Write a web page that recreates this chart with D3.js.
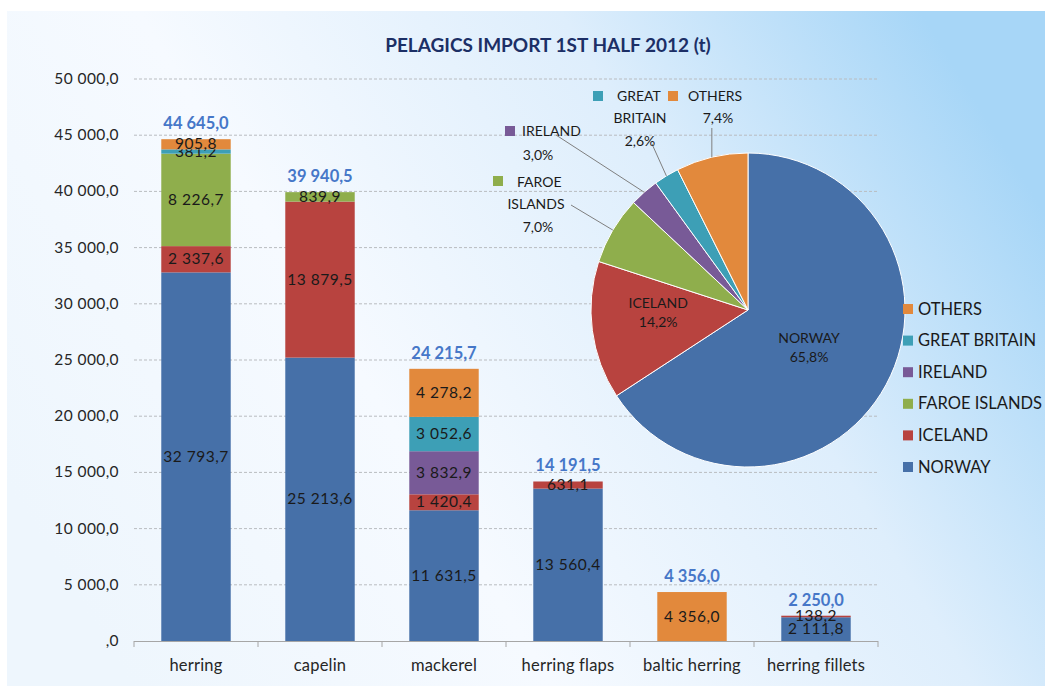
<!DOCTYPE html>
<html>
<head>
<meta charset="utf-8">
<script src="https://cdn.jsdelivr.net/npm/d3@7"></script>
<style>
  body { margin: 0; background: #fff; }
  svg { display: block; font-family: Lato, "Open Sans", sans-serif; }
</style>
</head>
<body>
<svg id="chart" width="1045" height="686"></svg>
<script>
// --- data ---
const categories = ['herring', 'capelin', 'mackerel', 'herring flaps', 'baltic herring', 'herring fillets'];
const countries = ['NORWAY', 'ICELAND', 'FAROE ISLANDS', 'IRELAND', 'GREAT BRITAIN', 'OTHERS'];

const norway = [32793.7, 25213.6, 11631.5, 13560.4, 0, 2111.8];
const iceland = [2337.6, 13879.5, 1420.4, 631.1, 0, 138.2];
const faroe = [8226.7, 839.9, 0, 0, 0, 0];
const ireland = [0, 0, 3832.9, 0, 0, 0];
const greatBritain = [381.2, 0, 3052.6, 0, 0, 0];
const others = [905.8, 0, 4278.2, 0, 4356.0, 0];
const totals = [44645.0, 39940.5, 24215.7, 14191.5, 4356.0, 2250.0];

const pieShares = [65.8, 14.2, 7.0, 3.0, 2.6, 7.4];
const yTicks = [0, 5000, 10000, 15000, 20000, 25000, 30000, 35000, 40000, 45000, 50000];

const colors = ['#4670a8', '#b8433f', '#8fae4c', '#785a97', '#3d9fb6', '#e2893c'];

// --- helpers ---
const locale = d3.formatLocale({ decimal: ',', thousands: '\u00a0', grouping: [3] });
const fmt = locale.format(',.1f');
const fmtTick = (v) => v === 0 ? ',0' : fmt(v);

const svg = d3.select('#chart');
const defs = svg.append('defs');
const grad = defs.append('linearGradient')
  .attr('id', 'bg')
  .attr('x1', 0).attr('y1', 0.7).attr('x2', 1).attr('y2', 0.3);
[[0, '#eef6fd'], [0.35, '#f6faff'], [0.7, '#deeefc'], [1, '#a7d6f7']].forEach(([o, c]) =>
  grad.append('stop').attr('offset', o).attr('stop-color', c));

svg.append('rect')
  .attr('x', 7).attr('y', 11)
  .attr('width', 1038).attr('height', 675)
  .attr('fill', 'url(#bg)');

// title
svg.append('text')
  .attr('x', 548).attr('y', 52)
  .attr('text-anchor', 'middle')
  .attr('font-size', 19)
  .attr('font-weight', 'bold')
  .attr('fill', '#1c2f66')
  .text('PELAGICS IMPORT 1ST HALF 2012 (t)');

// --- bar chart ---
const x = d3.scaleBand().domain(categories).range([134, 878]).paddingInner(0.44).paddingOuter(0.22);
const y = d3.scaleLinear().domain([0, 50000]).range([641, 79]);

// gridlines
svg.append('g')
  .selectAll('line')
  .data(yTicks.filter(d => d > 0))
  .join('line')
  .attr('x1', 134).attr('x2', 878)
  .attr('y1', d => y(d)).attr('y2', d => y(d))
  .attr('stroke', '#b9bcc0')
  .attr('stroke-dasharray', '3,2')
  .attr('stroke-width', 1);

// y axis labels
svg.append('g')
  .selectAll('text')
  .data(yTicks)
  .join('text')
  .attr('x', 119)
  .attr('y', d => y(d) + 5)
  .attr('text-anchor', 'end')
  .attr('font-size', 15.5)
  .attr('letter-spacing', 0.4)
  .attr('fill', '#262626')
  .text(fmtTick);

// stacked data
const seriesData = [norway, iceland, faroe, ireland, greatBritain, others];
const rows = categories.map((c, i) => {
  const row = { cat: c };
  countries.forEach((k, j) => { row[k] = seriesData[j][i]; });
  return row;
});
const stack = d3.stack().keys(countries)(rows);

const layers = svg.append('g')
  .selectAll('g')
  .data(stack)
  .join('g')
  .attr('fill', (d, i) => colors[i]);

layers.selectAll('rect')
  .data(d => d.filter(s => s[1] - s[0] > 0))
  .join('rect')
  .attr('x', d => x(d.data.cat))
  .attr('width', x.bandwidth())
  .attr('y', d => y(d[1]))
  .attr('height', d => y(d[0]) - y(d[1]));

// value labels
layers.selectAll('text')
  .data(d => d.filter(s => s[1] - s[0] > 0))
  .join('text')
  .attr('x', d => x(d.data.cat) + x.bandwidth() / 2)
  .attr('y', d => (y(d[0]) + y(d[1])) / 2 + 5)
  .attr('text-anchor', 'middle')
  .attr('font-size', 15.5)
  .attr('letter-spacing', 0.5)
  .attr('fill', '#1a1a1a')
  .text(d => fmt(d[1] - d[0]));

// totals
svg.append('g')
  .selectAll('text')
  .data(totals)
  .join('text')
  .attr('x', (d, i) => x(categories[i]) + x.bandwidth() / 2)
  .attr('y', d => y(d) - 10)
  .attr('text-anchor', 'middle')
  .attr('font-size', 16.5)
  .attr('font-weight', 'bold')
  .attr('fill', '#4677c8')
  .text(d => fmt(d));

// x axis
const xAxis = svg.append('g');
xAxis.append('line')
  .attr('x1', 134).attr('x2', 878)
  .attr('y1', y(0) + 0.5).attr('y2', y(0) + 0.5)
  .attr('stroke', '#a6a6a6');
xAxis.selectAll('line.tick')
  .data(d3.range(categories.length + 1))
  .join('line')
  .attr('class', 'tick')
  .attr('x1', i => 134 + i * x.step())
  .attr('x2', i => 134 + i * x.step())
  .attr('y1', y(0)).attr('y2', y(0) + 6)
  .attr('stroke', '#a6a6a6');
xAxis.selectAll('text')
  .data(categories)
  .join('text')
  .attr('x', d => x(d) + x.bandwidth() / 2)
  .attr('y', 671)
  .attr('text-anchor', 'middle')
  .attr('font-size', 16.5)
  .attr('letter-spacing', 0.2)
  .attr('fill', '#262626')
  .text(d => d);

// --- pie chart ---
const cx = 748, cy = 310, r = 157;
const pie = d3.pie().sort(null).value(d => d);
const arcs = pie(pieShares);
const arc = d3.arc().innerRadius(0).outerRadius(r);
const pg = svg.append('g').attr('transform', `translate(${cx},${cy})`);

pg.selectAll('path')
  .data(arcs)
  .join('path')
  .attr('d', arc)
  .attr('fill', (d, i) => colors[i])
  .attr('stroke', '#fff')
  .attr('stroke-width', 1);

const pct = (v) => locale.format('.1f')(v) + '%';

// inside labels (Norway, Iceland)
[0, 1].forEach(i => {
  const c = arc.centroid(arcs[i]);
  const dx = i === 0 ? -8 : -12;
  const dy = i === 0 ? 0 : -8;
  const t = pg.append('text')
    .attr('text-anchor', 'middle')
    .attr('font-size', 14)
    .attr('fill', '#1a1a1a');
  t.append('tspan').attr('x', c[0] + dx).attr('y', c[1] - 4 + dy).text(countries[i]);
  t.append('tspan').attr('x', c[0] + dx).attr('y', c[1] + 15 + dy).text(pct(pieShares[i]));
});

// outside labels with leader lines (offsets from pie centre)
const outside = [
  { i: 2, sq: [-255, -134], lines: [['FAROE', -231, -123, 'start'], ['ISLANDS', -212, -101, 'middle'], [null, -210, -78, 'middle']], lead: [-177, -105] },
  { i: 3, sq: [-243, -184], lines: [['IRELAND', -226, -174, 'start'], [null, -210, -150, 'middle']], lead: [-192, -175] },
  { i: 4, sq: [-155, -219], lines: [['GREAT', -131, -209, 'start'], ['BRITAIN', -108, -187, 'middle'], [null, -108, -164, 'middle']], lead: [-96, -166] },
  { i: 5, sq: [-80, -219], lines: [['OTHERS', -60, -209, 'start'], [null, -30, -187, 'middle']], lead: [null, -182] }
];

outside.forEach(o => {
  const a = (arcs[o.i].startAngle + arcs[o.i].endAngle) / 2;
  const px = Math.sin(a) * r, py = -Math.cos(a) * r;
  const lx = o.lead[0] === null ? px : o.lead[0];
  pg.append('line')
    .attr('x1', lx).attr('y1', o.lead[1])
    .attr('x2', px).attr('y2', py)
    .attr('stroke', '#7f7f7f')
    .attr('stroke-width', 1);
  pg.append('rect')
    .attr('x', o.sq[0]).attr('y', o.sq[1])
    .attr('width', 10).attr('height', 10)
    .attr('fill', colors[o.i]);
  o.lines.forEach(([txt, tx, ty, anchor]) => {
    pg.append('text')
      .attr('x', tx).attr('y', ty)
      .attr('text-anchor', anchor)
      .attr('font-size', 14)
      .attr('fill', '#1a1a1a')
      .text(txt === null ? pct(pieShares[o.i]) : txt);
  });
});

// legend
const legend = svg.append('g')
  .selectAll('g')
  .data(countries.slice().reverse())
  .join('g')
  .attr('transform', (d, i) => `translate(903,${309 + i * 31.6})`);
legend.append('rect')
  .attr('x', 0).attr('y', -5)
  .attr('width', 10).attr('height', 10)
  .attr('fill', d => colors[countries.indexOf(d)]);
legend.append('text')
  .attr('x', 15).attr('y', 5.5)
  .attr('font-size', 16.5)
  .attr('fill', '#1a1a1a')
  .text(d => d);
</script>
</body>
</html>
